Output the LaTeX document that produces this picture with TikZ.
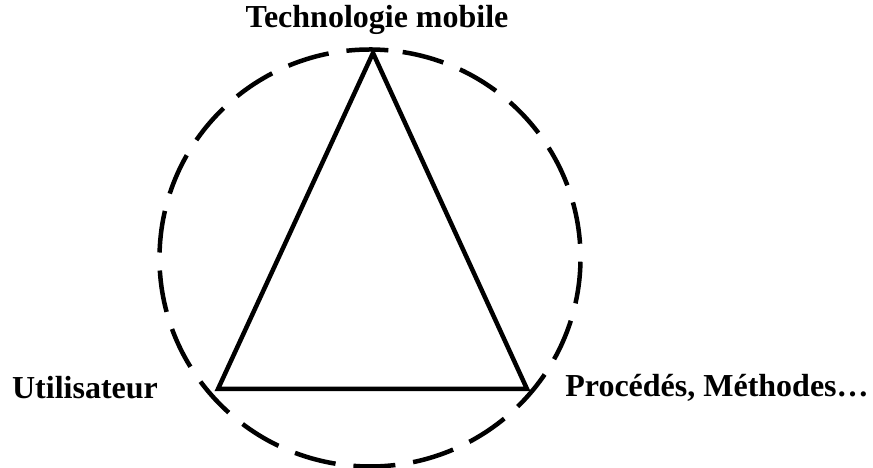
\documentclass[tikz,border=0pt]{standalone}
\usepackage{fontspec}
\setmainfont{Liberation Serif}
\usetikzlibrary{positioning}

\begin{document}
\begin{tikzpicture}[x=1pt,y=1pt,-,thick,
    corner/.style={inner sep=0pt,minimum size=0pt},
    tag/.style={inner sep=0pt,font=\bfseries\fontsize{32}{36}\selectfont},
    side/.style={line width=4.5pt,line join=miter},
    ring/.style={line width=4.5pt,dash pattern=on 42pt off 18pt}]

            \useasboundingbox (0,0) rectangle (873,468);

            \coordinate (c) at (370,210);
            \node[corner] (1) at (373,415) {};
            \node[corner] (2) at (218,79) {};
            \node[corner] (3) at (527,79) {};

            \node[tag] (tech) at (377,448) {Technologie mobile};
            \node[tag] (user) at (85,80) {Utilisateur};
            \node[tag] (proc) at (717,80) {Procédés, Méthodes…};

            \draw[ring] (c) ++(85:210.5 and 208.5) arc[start angle=85,end angle=445,x radius=210.5,y radius=208.5];

            \draw[side] (1.center) -- (2.center) -- (3.center) -- cycle;

            ;
        \end{tikzpicture}
\end{document}
